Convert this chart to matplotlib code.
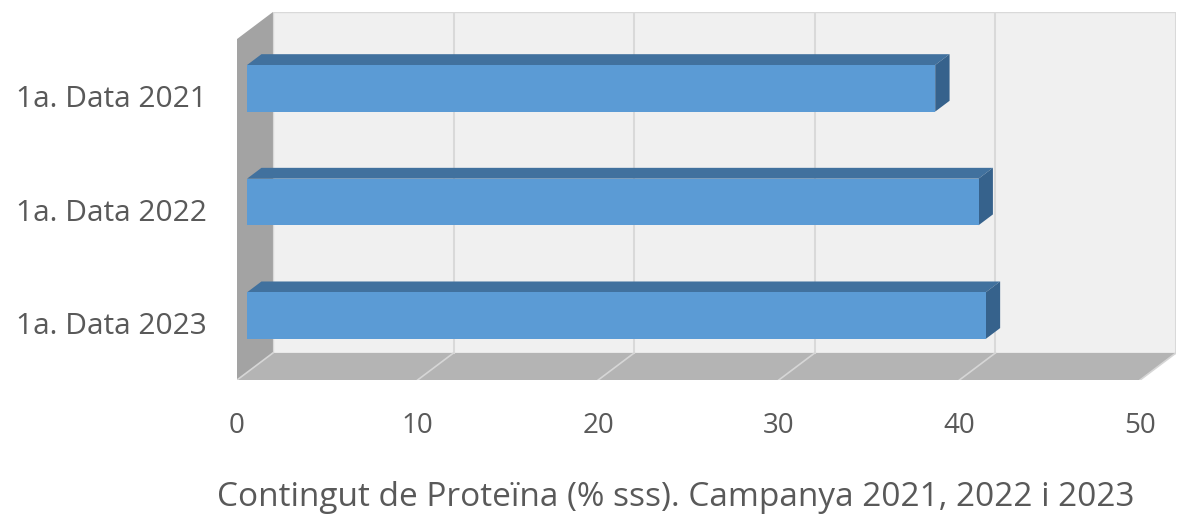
import numpy as np
import matplotlib.pyplot as plt
from matplotlib.patches import Polygon

# data
categories = ['1a. Data 2021', '1a. Data 2022', '1a. Data 2023']
protein = [38.1, 40.5, 40.9]
x_ticks = [0, 10, 20, 30, 40, 50]
x_title = 'Contingut de Proteïna (% sss). Campanya 2021, 2022 i 2023'

plt.rcParams['font.family'] = ['Open Sans', 'DejaVu Sans']
TXT = '#595959'

W, H = 1181, 517
fig = plt.figure(figsize=(W / 100, H / 100), dpi=100)
ax = fig.add_axes([237 / W, 1 - 380 / H, 939 / W, 368 / H])

n = len(categories)
xmax = x_ticks[-1]
dx, dy = 1.99, -0.238          # depth of the 3d box, in data units
ylo, yhi = -0.5, n - 0.5
ax.set_xlim(0, xmax + dx)
ax.set_ylim(yhi, ylo + dy)

# walls and floor
back = [(dx, ylo + dy), (xmax + dx, ylo + dy), (xmax + dx, yhi + dy), (dx, yhi + dy)]
side = [(0, ylo), (dx, ylo + dy), (dx, yhi + dy), (0, yhi)]
floor = [(0, yhi), (xmax, yhi), (xmax + dx, yhi + dy), (dx, yhi + dy)]
ax.add_patch(Polygon(back, closed=True, facecolor='#F0F0F0', edgecolor='#D9D9D9', lw=1, zorder=1))
ax.add_patch(Polygon(side, closed=True, facecolor='#A3A3A3', edgecolor='none', zorder=1))
ax.add_patch(Polygon(floor, closed=True, facecolor='#B4B4B4', edgecolor='none', zorder=1))

# gridlines on back wall and floor
for t in x_ticks:
    if t > 0:
        ax.plot([t + dx, t + dx], [ylo + dy, yhi + dy], color='#D9D9D9', lw=1.5, zorder=2)
    ax.plot([t + dx, t], [yhi + dy, yhi], color='#D6D6D6', lw=1.2, zorder=2)

# bars
f0, f1 = 0.28, 0.68
bh = 0.41
yc = np.arange(n) + f0 * dy
x0 = f0 * dx
ddx, ddy = (f1 - f0) * dx, (f1 - f0) * dy
ax.barh(yc, protein, left=x0, height=bh, color='#5B9BD5', zorder=4)
for y, v in zip(yc, protein):
    yt, yb = y - bh / 2, y + bh / 2
    top = [(x0, yt), (x0 + v, yt), (x0 + v + ddx, yt + ddy), (x0 + ddx, yt + ddy)]
    right = [(x0 + v, yt), (x0 + v + ddx, yt + ddy), (x0 + v + ddx, yb + ddy), (x0 + v, yb)]
    ax.add_patch(Polygon(top, closed=True, facecolor='#41719E', edgecolor='none', zorder=3))
    ax.add_patch(Polygon(right, closed=True, facecolor='#36628C', edgecolor='none', zorder=3))

ax.set_xticks(x_ticks)
ax.set_xticklabels([str(t) for t in x_ticks])
ax.set_yticks(np.arange(n))
ax.set_yticklabels(categories)
ax.tick_params(axis='x', length=0, pad=23, labelsize=20, labelcolor=TXT)
ax.tick_params(axis='y', length=0, pad=22, labelsize=21.5, labelcolor=TXT)
for s in ax.spines.values():
    s.set_visible(False)
ax.patch.set_visible(False)

fig.text(676 / W, 1 - 506 / H, x_title, ha='center', va='baseline', fontsize=24, color=TXT)

fig.savefig('out.png', dpi=100)
